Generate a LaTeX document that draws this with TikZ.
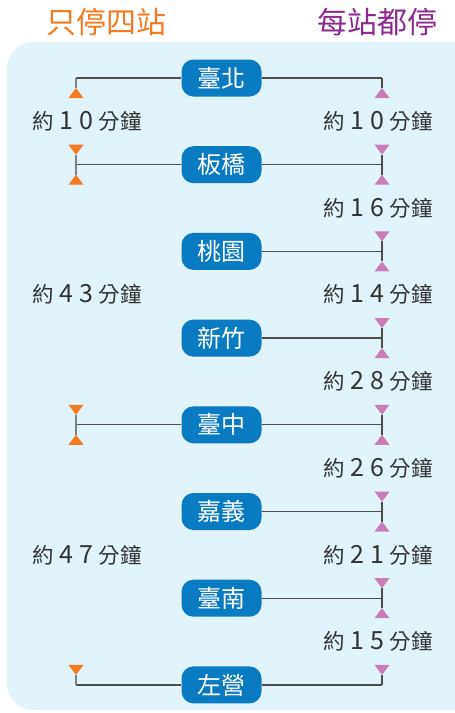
\documentclass[tikz,border=0pt]{standalone}
\usepackage{fontspec}
\setmainfont{Noto Sans CJK TC}
\usetikzlibrary{calc}
\definecolor{panelblue}{HTML}{E1F3FB}
\definecolor{stationblue}{HTML}{0B7BC1}
\definecolor{fastorange}{HTML}{F47B20}
\definecolor{slowpink}{HTML}{C97DB8}
\definecolor{slowpurple}{HTML}{8E2890}
\definecolor{linegray}{HTML}{4D4D4D}
\definecolor{textgray}{HTML}{333333}
\tikzset{
  station/.style={rectangle, rounded corners=12pt, fill=stationblue, text=white,
    minimum width=80pt, minimum height=37pt, inner sep=0pt,
    font=\fontsize{24}{24}\selectfont},
  timelabel/.style={font=\fontsize{21.5}{21.5}\selectfont, text=textgray},
  heading/.style={font=\fontsize{30}{30}\selectfont},
  route/.style={line width=1.3pt, color=linegray}
}
% triangle above / below a point on a vertical line
\newcommand{\tridown}[2]{\fill[#2] (#1) ++(-7.5,-20) -- ++(15,0) -- ++(-7.5,10) -- cycle;}
\newcommand{\triup}[2]{\fill[#2] (#1) ++(-7.5,20) -- ++(15,0) -- ++(-7.5,-10) -- cycle;}
% "about xy minutes", digits spread out
\newcommand{\aboutmin}[2]{約\hspace{6pt}{\fontsize{25}{25}\selectfont#1\hspace{6pt}#2}\hspace{5pt}分鐘}

\begin{document}
\begin{tikzpicture}[x=1pt,y=-1pt,line cap=butt]
\clip (0,0) rectangle (455,713);
\fill[panelblue, rounded corners=26pt] (7,42) rectangle (490,710);

\node[heading, text=fastorange] (fasthead) at (106,22) {只停四站};
\node[heading, text=slowpurple] (slowhead) at (377,22) {每站都停};

% stations, every one on the right line
\foreach \nm/\stn [count=\i from 0] in {tp/臺北, bq/板橋, ty/桃園, hc/新竹, tc/臺中, cy/嘉義, tn/臺南, zy/左營} {
  \node[station] (\nm) at (221.5,78+86.7*\i) {\stn};
  \coordinate (\nm-r) at (382,78+86.7*\i);
  \coordinate (\nm-l) at (76,78+86.7*\i);
  \draw[route] (\nm.east) -- (\nm-r);
}
% left line: only four stops
\foreach \nm in {tp, bq, tc, zy}
  \draw[route] (\nm.west) -- (\nm-l);

% vertical ticks
\draw[route] (tp-r) -- ++(0,10);
\draw[route, color=gray] (tp-l) -- ++(0,10);
\foreach \nm in {bq, ty, hc, tc, cy, tn}
  \draw[route] ($(\nm-r)+(0,-10)$) -- ($(\nm-r)+(0,10)$);
\foreach \nm in {bq, tc}
  \draw[route, color=gray] ($(\nm-l)+(0,-10)$) -- ($(\nm-l)+(0,10)$);
\draw[route] (zy-r) -- ++(0,-10);
\draw[route, color=gray] (zy-l) -- ++(0,-10);

% triangles
\foreach \nm in {tp, bq, ty, hc, tc, cy, tn}
  {\triup{\nm-r}{slowpink}}
\foreach \nm in {bq, ty, hc, tc, cy, tn, zy}
  {\tridown{\nm-r}{slowpink}}
\foreach \nm in {tp, bq, tc}
  {\triup{\nm-l}{fastorange}}
\foreach \nm in {bq, tc, zy}
  {\tridown{\nm-l}{fastorange}}

% travel times
\foreach \a/\b/\d/\e [count=\j] in {tp/bq/1/0, bq/ty/1/6, ty/hc/1/4, hc/tc/2/8, tc/cy/2/6, cy/tn/2/1, tn/zy/1/5}
  \node[timelabel] (slow\j) at ($(\a-r)!0.5!(\b-r)+(-4,0)$) {\aboutmin{\d}{\e}};
\foreach \a/\b/\d/\e [count=\j] in {tp/bq/1/0, bq/tc/4/3, tc/zy/4/7}
  \node[timelabel] (fast\j) at ($(\a-l)!0.5!(\b-l)+(11,0)$) {\aboutmin{\d}{\e}};
\end{tikzpicture}
\end{document}
